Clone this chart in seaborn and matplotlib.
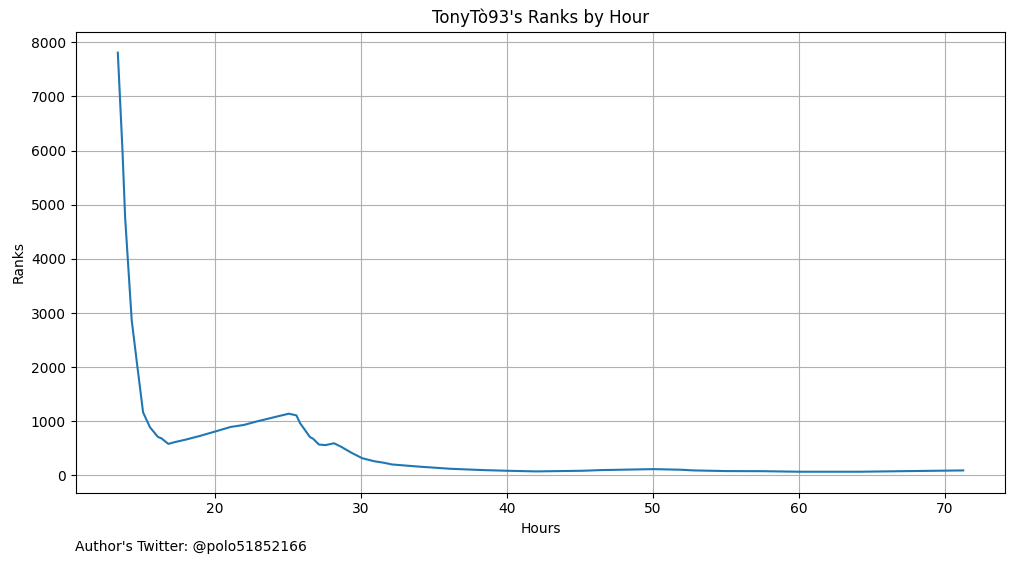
import numpy as np
import pandas as pd
import matplotlib
matplotlib.use("Agg")
import matplotlib.pyplot as plt
import seaborn as sns

# hours since start and rank at that hour
hours = [13.37, 13.69, 13.87, 14.32, 14.71, 15.10, 15.57, 16.12, 16.35, 16.83,
         17.22, 18.0, 19.0, 20.09, 21.09, 22.0, 22.9, 23.7, 24.5, 25.08,
         25.6, 25.84, 26.52, 26.75, 27.14, 27.6, 28.17, 28.67, 29.3, 30.1,
         30.9, 31.6, 32.15, 33.86, 36.1, 38.4, 40.0, 42.0, 45.25, 46.4,
         50.05, 51.9, 52.8, 55.05, 57.5, 60.0, 64.2, 67.6, 71.25]
ranks = [7810, 6000, 4770, 2870, 2010, 1165, 890, 710, 686, 582,
         612, 660, 730, 815, 895, 932, 998, 1050, 1103, 1140,
         1109, 969, 710, 675, 570, 560, 594, 528, 428, 318,
         263, 233, 202, 165, 123, 98, 86, 74, 86, 98,
         116, 105, 92, 80, 78, 68, 68, 80, 92]

df = pd.DataFrame({"Hours": hours, "Ranks": ranks})

fig = plt.figure(figsize=(10.14, 5.63), dpi=100)
ax = fig.add_axes([0.0745, 0.1249, 0.9171, 0.8188])
sns.lineplot(data=df, x="Hours", y="Ranks", ax=ax, color="#1f77b4", linewidth=1.5)
ax.grid(True)
ax.set_axisbelow(True)
ax.set_title("TonyTò93's Ranks by Hour")
ax.set_xlabel("Hours")
ax.set_ylabel("Ranks")
fig.text(0.074, 0.028, "Author's Twitter: @polo51852166", va="center", ha="left")

fig.savefig("out.png", dpi=100)
